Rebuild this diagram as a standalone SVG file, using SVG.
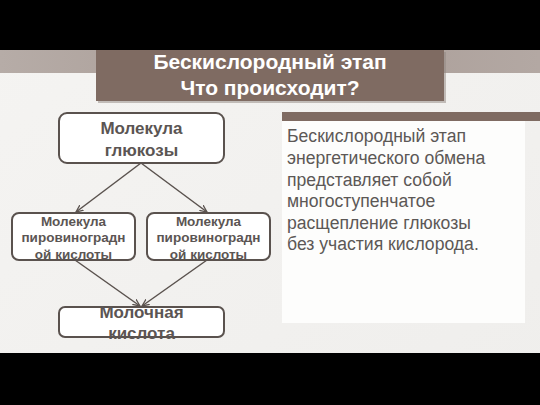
<svg xmlns="http://www.w3.org/2000/svg" width="540" height="405" viewBox="0 0 540 405">
<defs>
<linearGradient id="band" x1="0" y1="0" x2="1" y2="0">
<stop offset="0" stop-color="#b6aca7"/>
<stop offset="0.5" stop-color="#a89b95"/>
<stop offset="1" stop-color="#b3a8a3"/>
</linearGradient>
<linearGradient id="bg" x1="0" y1="0" x2="1" y2="1">
<stop offset="0" stop-color="#f5f4f2"/>
<stop offset="1" stop-color="#efeeec"/>
</linearGradient>
<marker id="arr" viewBox="0 0 10 10" refX="9" refY="5" markerWidth="8" markerHeight="8" orient="auto" markerUnits="userSpaceOnUse">
<path d="M0,1 L9,5 L0,9" fill="none" stroke="#5a524e" stroke-width="1.6"/>
</marker>
</defs>
<style>
.box{fill:#ffffff;stroke:#5a524e;stroke-width:2}
.bt{font-family:"Liberation Sans",Arial,sans-serif;font-weight:bold;fill:#5b5553;text-anchor:middle}
.big{font-size:17px}
.sm{font-size:13.5px}
.conn{stroke:#5a524e;stroke-width:1.5;fill:none;marker-end:url(#arr)}
.para{font-family:"Liberation Sans",Arial,sans-serif;font-size:17.6px;fill:#5c5856}
.ttl{font-family:"Liberation Sans",Arial,sans-serif;font-weight:bold;font-size:21px;fill:#ffffff;text-anchor:middle}
</style>
<rect x="0" y="0" width="540" height="405" fill="url(#bg)"/>
<rect x="0" y="50" width="540" height="23" fill="url(#band)"/>
<rect x="0" y="0" width="540" height="50" fill="#000"/>
<rect x="0" y="353" width="540" height="52" fill="#000"/>
<g id="title">
<rect x="98" y="52" width="348" height="51" fill="#8f8580" opacity="0.5"/>
<rect x="96" y="50" width="348" height="51" fill="#7f6b62"/>
<text class="ttl" x="270" y="69">Бескислородный этап</text>
<text class="ttl" x="270" y="95">Что происходит?</text>
</g>
<g id="panel">
<rect x="282" y="112" width="258" height="9" fill="#7f6b62"/>
<rect x="282" y="121" width="243" height="202" fill="#fdfdfc"/>
<text class="para" x="287" y="142">Бескислородный этап</text>
<text class="para" x="287" y="164">энергетического обмена</text>
<text class="para" x="287" y="186">представляет собой</text>
<text class="para" x="287" y="207">многоступенчатое</text>
<text class="para" x="287" y="229">расщепление глюкозы</text>
<text class="para" x="287" y="250">без участия кислорода.</text>
</g>
<g id="connectors">
<line class="conn" x1="141" y1="163" x2="76" y2="212"/>
<line class="conn" x1="141" y1="163" x2="207" y2="212"/>
<line class="conn" x1="75" y1="260" x2="140" y2="306"/>
<line class="conn" x1="207" y1="260" x2="142" y2="306"/>
</g>
<g id="glucose">
<rect class="box" x="59" y="113" width="165" height="50" rx="8"/>
<text class="bt big" x="141.5" y="134">Молекула</text>
<text class="bt big" x="141.5" y="156">глюкозы</text>
</g>
<g id="pvk1">
<rect class="box" x="12" y="213" width="123" height="47" rx="7"/>
<text class="bt sm" x="73.5" y="226">Молекула</text>
<text class="bt sm" x="73.5" y="242">пировиноградн</text>
<text class="bt sm" x="73.5" y="259">ой кислоты</text>
</g>
<g id="pvk2">
<rect class="box" x="147" y="213" width="123" height="47" rx="7"/>
<text class="bt sm" x="208.5" y="226">Молекула</text>
<text class="bt sm" x="208.5" y="242">пировиноградн</text>
<text class="bt sm" x="208.5" y="259">ой кислоты</text>
</g>
<g id="lactic">
<rect class="box" x="59" y="307" width="165" height="30" rx="6"/>
<text class="bt big" x="141.5" y="318">Молочная</text>
<text class="bt big" x="141.5" y="339">кислота</text>
</g>
</svg>
